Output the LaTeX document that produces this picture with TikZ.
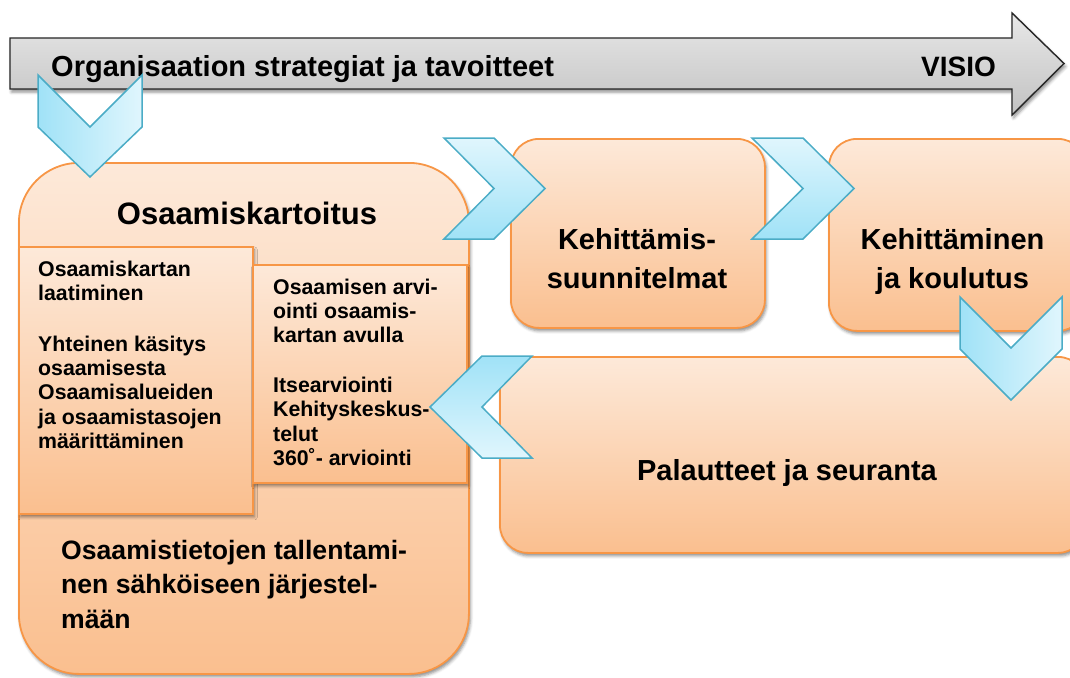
\documentclass[tikz,border=0pt]{standalone}
\usepackage{fontspec}
\setmainfont{Liberation Sans}
\usetikzlibrary{shadows.blur}

\definecolor{peachtop}{HTML}{FDE9D9}
\definecolor{peachbot}{HTML}{FABF8F}
\definecolor{boxline}{HTML}{F79646}
\definecolor{cyandark}{HTML}{A0E2F7}
\definecolor{cyanlight}{HTML}{E0F6FD}
\definecolor{chevline}{HTML}{4BACC6}
\definecolor{greytop}{HTML}{E8E8E8}
\definecolor{greybot}{HTML}{C2C2C2}
\definecolor{greyline}{HTML}{262626}

\tikzset{
  softshadow/.style={blur shadow={shadow xshift=1.5pt,shadow yshift=-3pt,
      shadow blur radius=3pt,shadow opacity=45}},
  peachbox/.style={draw=boxline,line width=1.8pt,top color=peachtop,
      bottom color=peachbot,softshadow,inner sep=0pt,anchor=north west},
  chevdown/.style={draw=chevline,line width=1.5pt,left color=cyandark,
      right color=cyanlight,line join=miter},
  chevright/.style={draw=chevline,line width=1.5pt,top color=cyanlight,
      bottom color=cyandark,line join=miter},
  chevleft/.style={draw=chevline,line width=1.5pt,top color=cyandark,
      bottom color=cyanlight,line join=miter},
  greyarrow/.style={draw=greyline,line width=1.4pt,top color=greytop,
      bottom color=greybot,softshadow,line join=miter},
  txt/.style={inner sep=0pt,font=\bfseries}
}

\begin{document}
\begin{tikzpicture}[x=1pt,y=-1pt]
\useasboundingbox (0,0) rectangle (1070,677);

% strategy arrow across the top
\path[greyarrow] (10,38) -- (1012,38) -- (1012,13) -- (1064,63.5)
  -- (1012,115) -- (1012,89) -- (10,89) -- cycle;
\node[txt,anchor=base west,font=\bfseries\fontsize{29}{33}\selectfont]
  (strategy) at (51,77) {Organisaation strategiat ja tavoitteet};
\node[txt,anchor=base east,font=\bfseries\fontsize{28}{32}\selectfont]
  (vision) at (996,77) {VISIO};

% competence mapping block
\node[peachbox,rounded corners=60pt,minimum width=450pt,minimum height=511pt]
  (mapping) at (18,162) {};
\node[txt,anchor=base,font=\bfseries\fontsize{31}{36}\selectfont]
  (mappingtitle) at (247,224) {Osaamiskartoitus};

\node[peachbox,minimum width=234pt,minimum height=267pt] (mapinner) at (18,246) {};
\node[txt,anchor=base west] (mapinnertext) at (38,276)
  {\parbox[t]{210pt}{\raggedright\fontsize{21.3}{24.3}\selectfont\bfseries
   Osaamiskartan\\laatiminen\\[26.5pt]Yhteinen käsitys\\osaamisesta\\
   Osaamisalueiden\\ja osaamistasojen\\määrittäminen}};

\node[peachbox,minimum width=214pt,minimum height=218pt] (assess) at (252,264) {};
\node[txt,anchor=base west] (assesstext) at (273,294)
  {\parbox[t]{190pt}{\raggedright\fontsize{21.3}{24.3}\selectfont\bfseries
   Osaamisen arvi-\\ointi osaamis-\\kartan avulla\\[25.5pt]Itsearviointi\\
   Kehityskeskus-\\telut\\360˚- arviointi}};

\node[txt,anchor=base west] (storetext) at (61,559)
  {\parbox[t]{400pt}{\raggedright\fontsize{26.6}{34.5}\selectfont\bfseries
   Osaamistietojen tallentami-\\nen sähköiseen järjestel-\\mään}};

% downward chevron from the strategy arrow
\path[chevdown] (38,75) -- (90,127) -- (142,75) -- (142,127) -- (90,177)
  -- (38,127) -- cycle;

% development plans, training, feedback
\node[peachbox,rounded corners=28pt,minimum width=254pt,minimum height=189pt]
  (plans) at (510,138) {};
\node[txt,anchor=base] (planstext) at (637,249)
  {\parbox[t]{240pt}{\centering\fontsize{29}{39}\selectfont\bfseries
   Kehittämis-\\suunnitelmat}};

\node[peachbox,rounded corners=28pt,minimum width=257pt,minimum height=192pt]
  (training) at (828,138) {};
\node[txt,anchor=base] (trainingtext) at (952.5,249)
  {\parbox[t]{240pt}{\centering\fontsize{29}{39}\selectfont\bfseries
   Kehittäminen\\ja koulutus}};

\node[peachbox,rounded corners=28pt,minimum width=586pt,minimum height=196pt]
  (feedback) at (499,356) {};
\node[txt,anchor=base,font=\bfseries\fontsize{29}{34}\selectfont]
  (feedbacktext) at (787,480) {Palautteet ja seuranta};

% flow chevrons between the stages
\path[chevright] (444,138) -- (494,138) -- (545,188.5) -- (494,239) -- (444,239)
  -- (494,188.5) -- cycle;
\path[chevright] (752,138) -- (803,138) -- (854,188.5) -- (803,239) -- (752,239)
  -- (803,188.5) -- cycle;
\path[chevdown] (960,297) -- (1011,348) -- (1062,297) -- (1062,349)
  -- (1011,400) -- (960,349) -- cycle;
\path[chevleft] (532,356) -- (482,356) -- (430,407) -- (482,458) -- (532,458)
  -- (482,407) -- cycle;
\end{tikzpicture}
\end{document}
